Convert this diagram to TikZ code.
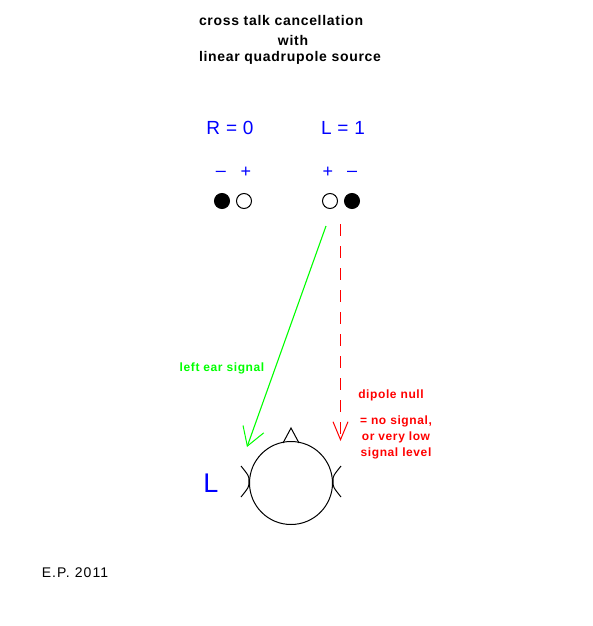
\documentclass[tikz,border=0pt]{standalone}
\usepackage{fontspec}
\setmainfont{Liberation Sans}
\usetikzlibrary{arrows.meta}

\definecolor{pblue}{RGB}{0,0,255}
\definecolor{pgreen}{RGB}{0,255,0}
\definecolor{pred}{RGB}{255,0,0}

\begin{document}
\begin{tikzpicture}[
        x=1pt, y=-1pt,
        every node/.style={inner sep=0pt, outer sep=0pt},
        title/.style={font=\fontsize{14}{16}\selectfont\bfseries\addfontfeatures{LetterSpace=5}},
        chan/.style={text=pblue, font=\fontsize{19}{20}\selectfont\addfontfeatures{LetterSpace=3}},
        sign/.style={text=pblue, font=\fontsize{18}{18}\selectfont},
        note/.style={font=\fontsize{12}{16}\selectfont\bfseries\addfontfeatures{LetterSpace=5}},
        spk/.style={circle, draw=black, line width=1pt, minimum size=15pt},
        ear/.style={line width=1pt}
    ]
    \useasboundingbox (0,0) rectangle (592,626);

    % Title
    \node (t1) [title, anchor=west] at (199,20) {cross talk cancellation};
    \node (t2) [title] at (293,40) {with};
    \node (t3) [title, anchor=west] at (199,58) {linear quadrupole source};

    % Channels
    \node (chR) [chan] at (230,128) {R = 0};
    \node (chL) [chan] at (343,128) {L = 1};

    % Signs
    \node (sR1) [sign] at (221,174) {--};
    \node (sR2) [sign] at (246,172) {+};
    \node (sL1) [sign] at (328,172) {+};
    \node (sL2) [sign] at (352,174) {--};

    % Speakers
    \node (spR1) [spk, fill=black] at (222,201) {};
    \node (spR2) [spk] at (244,201) {};
    \node (spL1) [spk] at (330,201) {};
    \node (spL2) [spk, fill=black] at (352,201) {};

    % Head
    \node (head) [circle, draw, line width=1pt, minimum size=83pt] at (291,483) {};
    \coordinate (noseL) at (283,443);
    \coordinate (noseT) at (291,428);
    \coordinate (noseR) at (299,443);
    \draw [line width=1pt] (noseL) -- (noseT) -- (noseR);
    \draw [ear] (241,466) .. controls (249,476) .. (249,481) .. controls (249,487) .. (241,497);
    \draw [ear] (341,466) .. controls (333,476) .. (333,481) .. controls (333,487) .. (341,497);
    \node (earL) [text=pblue, font=\fontsize{27}{28}\selectfont] at (211,483) {L};

    % Arrows
    \coordinate (gsrc) at (326,226);
    \coordinate (gtip) at (247,447);
    \coordinate (rsrc) at (340.5,224);
    \coordinate (rtip) at (340.5,441);
    \draw [draw=pgreen, line width=1.1pt, -{Straight Barb[length=18pt, width=22pt, line width=1pt]}] (gsrc) -- (gtip);
    \draw [draw=pred, line width=1.2pt, dash pattern=on 12pt off 10pt, -{Straight Barb[length=18pt, width=15pt, line width=1pt]}] (rsrc) -- (rtip);

    % Labels
    \node (lsig) [note, text=pgreen] at (222,368) {left ear signal};
    \node (dnull) [note, text=pred] at (391,395) {dipole null};
    \node (nosig) [note, text=pred, align=center] at (396,437) {= no signal,\\or very low\\signal level};

    \node (sig) [font=\fontsize{14}{16}\selectfont\addfontfeatures{LetterSpace=8}] at (75,573) {E.P. 2011};

\end{tikzpicture}
\end{document}
